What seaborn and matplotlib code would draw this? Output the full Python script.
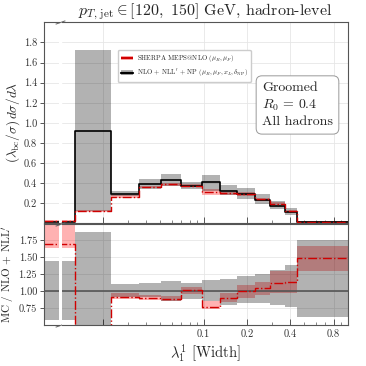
import numpy as np
import pandas as pd
import matplotlib
matplotlib.use("Agg")
import matplotlib.pyplot as plt
import seaborn as sns
from matplotlib.lines import Line2D
from matplotlib.patches import Patch
from matplotlib.ticker import FixedLocator, LogLocator, NullFormatter, FixedFormatter

# ---------------- data ----------------
edges = [0.0, 0.0127, 0.0229, 0.0356, 0.0509, 0.070, 0.0973, 0.129, 0.170,
         0.226, 0.290, 0.365, 0.447, 1.0]

theory    = [0.017, 0.92, 0.295, 0.397, 0.433, 0.375, 0.412, 0.325, 0.295, 0.232, 0.175, 0.113, 0.013]
theory_lo = [0.010, 0.12, 0.270, 0.345, 0.370, 0.345, 0.325, 0.285, 0.245, 0.190, 0.140, 0.085, 0.008]
theory_hi = [0.024, 1.72, 0.320, 0.440, 0.495, 0.415, 0.480, 0.380, 0.350, 0.295, 0.225, 0.150, 0.022]

mc    = [0.029, 0.123, 0.265, 0.360, 0.390, 0.375, 0.310, 0.300, 0.295, 0.240, 0.197, 0.125, 0.019]
mc_lo = [0.027, 0.113, 0.255, 0.350, 0.375, 0.360, 0.285, 0.280, 0.275, 0.225, 0.185, 0.115, 0.016]
mc_hi = [0.033, 0.133, 0.280, 0.375, 0.405, 0.390, 0.345, 0.315, 0.310, 0.255, 0.210, 0.135, 0.022]

ratio_mc    = [1.70, 0.13, 0.91, 0.90, 0.886, 1.01, 0.76, 0.905, 1.00, 1.04, 1.125, 1.13, 1.485]
ratio_mc_lo = [1.64, 0.12, 0.88, 0.87, 0.85, 0.96, 0.73, 0.84, 0.90, 0.94, 0.98, 0.98, 1.30]
ratio_mc_hi = [1.99, 0.14, 0.97, 0.94, 0.93, 1.06, 0.85, 0.98, 1.09, 1.14, 1.30, 1.30, 1.67]
ratio_th_lo = [0.57, 0.13, 0.92, 0.915, 0.85, 0.89, 0.85, 0.80, 0.83, 0.83, 0.80, 0.77, 0.62]
ratio_th_hi = [1.44, 1.87, 1.10, 1.125, 1.15, 1.115, 1.16, 1.18, 1.22, 1.25, 1.31, 1.39, 1.75]
ratio_ref = 1.0

x_break = 0.0104
top_yticks = [0.2, 0.4, 0.6, 0.8, 1.0, 1.2, 1.4, 1.6, 1.8]
bot_yticks = [0.75, 1.00, 1.25, 1.50, 1.75]
x_major = [0.02, 0.1, 0.2, 0.4, 0.8]
x_major_labels = ["", "0.1", "0.2", "0.4", "0.8"]

label_mc = r"SHERPA MEPS@NLO $(\mu_R, \mu_F)$"
label_th = r"NLO + NLL$^\prime$ + NP $(\mu_R, \mu_F, x_L, \delta_{\mathrm{NP}})$"

# ---------------- style ----------------
sns.set_theme(style="ticks")
plt.rcParams.update({
    "font.family": ["cmr10", "DejaVu Serif"],
    "mathtext.fontset": "cm",
    "axes.formatter.use_mathtext": True,
    "axes.unicode_minus": False,
    "axes.axisbelow": True,
    "axes.edgecolor": "#555555",
    "axes.linewidth": 0.8,
    "grid.color": "#e6e6e6",
    "grid.linewidth": 0.6,
    "xtick.color": "#555555",
    "ytick.color": "#555555",
    "xtick.labelcolor": "#333333",
    "ytick.labelcolor": "#333333",
})

RED = "#d00000"
GRAY_BAND = dict(color="black", alpha=0.3, lw=0)
RED_BAND = dict(color="red", alpha=0.3, lw=0)

W = 366.0
fig = plt.figure(figsize=(3.66, 3.66), dpi=100)
fx = lambda px: px / W
fy = lambda py: 1 - py / W

lL, rL = 44.0, 59.5
lM, rM = 62.0, 347.7
tT, bT = 22.3, 223.5
tB, bB = 223.5, 325.0

axL_top = fig.add_axes([fx(lL), fy(bT), fx(rL - lL), fx(bT - tT)])
axM_top = fig.add_axes([fx(lM), fy(bT), fx(rM - lM), fx(bT - tT)], sharey=axL_top)
axL_bot = fig.add_axes([fx(lL), fy(bB), fx(rL - lL), fx(bB - tB)], sharex=axL_top)
axM_bot = fig.add_axes([fx(lM), fy(bB), fx(rM - lM), fx(bB - tB)], sharey=axL_bot, sharex=axM_top)

for ax in (axM_top, axM_bot):
    ax.set_xscale("log", nonpositive="clip")


def ext(v):
    return list(v) + [v[-1]]


def draw_top(ax):
    ax.fill_between(edges, ext(mc_lo), ext(mc_hi), step="post", **RED_BAND)
    ax.fill_between(edges, ext(theory_lo), ext(theory_hi), step="post", **GRAY_BAND)
    d = pd.DataFrame({"x": edges, "th": ext(theory), "mc": ext(mc)})
    sns.lineplot(data=d, x="x", y="th", drawstyle="steps-post", color="black",
                 lw=1.2, ax=ax, sort=False, estimator=None, legend=False)
    sns.lineplot(data=d, x="x", y="mc", drawstyle="steps-post", color=RED,
                 lw=1.0, linestyle="-.", ax=ax, sort=False, estimator=None, legend=False)


def draw_bot(ax):
    ax.fill_between(edges, ext(ratio_mc_lo), ext(ratio_mc_hi), step="post", **RED_BAND)
    ax.fill_between(edges, ext(ratio_th_lo), ext(ratio_th_hi), step="post", **GRAY_BAND)
    ax.axhline(ratio_ref, color="#555555", lw=1.2)
    d = pd.DataFrame({"x": edges, "r": ext(ratio_mc)})
    sns.lineplot(data=d, x="x", y="r", drawstyle="steps-post", color=RED,
                 lw=1.0, linestyle="-.", ax=ax, sort=False, estimator=None, legend=False)


for ax in (axL_top, axM_top):
    draw_top(ax)
for ax in (axL_bot, axM_bot):
    draw_bot(ax)

axL_top.set_xlim(0, x_break)
axM_top.set_xlim(x_break, 1.0)
axL_top.set_ylim(0.0, 2.0)
axL_bot.set_ylim(0.5, 2.0)

for ax in (axL_top, axM_top, axL_bot, axM_bot):
    ax.set_xlabel("")
    ax.set_ylabel("")
    ax.grid(True, which="major")

# y ticks
axL_top.yaxis.set_major_locator(FixedLocator(top_yticks))
axL_top.yaxis.set_major_formatter(FixedFormatter([f"{v:.1f}" for v in top_yticks]))
axL_bot.yaxis.set_major_locator(FixedLocator(bot_yticks))
axL_bot.yaxis.set_major_formatter(FixedFormatter([f"{v:.2f}" for v in bot_yticks]))
for ax in (axL_top, axL_bot):
    ax.tick_params(axis="y", direction="out", length=3, width=0.7, labelsize=7.5, pad=2)
    ax.tick_params(axis="x", which="both", length=0, labelbottom=False)
    ax.spines["right"].set_visible(False)
for ax in (axM_top, axM_bot):
    ax.tick_params(axis="y", which="both", length=0, labelleft=False)
    ax.spines["left"].set_visible(False)
    ax.xaxis.set_major_locator(FixedLocator(x_major))
    ax.xaxis.set_minor_locator(LogLocator(base=10, subs=np.arange(2, 10)))
    ax.xaxis.set_minor_formatter(NullFormatter())
    ax.tick_params(axis="x", which="major", direction="in", length=4, width=0.7, labelsize=7.5, pad=3)
    ax.tick_params(axis="x", which="minor", direction="in", length=2, width=0.5)
axM_top.xaxis.set_major_formatter(NullFormatter())
axM_top.tick_params(axis="x", labelbottom=False)
axM_bot.xaxis.set_major_formatter(FixedFormatter(x_major_labels))

# break marks
kw = dict(marker=[(-1, -0.35), (1, 0.35)], markersize=7, linestyle="none",
          color="#666666", mec="#666666", mew=0.7, clip_on=False)
for ax in (axL_top, axL_bot):
    ax.plot([1.05, 1.05], [0, 1], transform=ax.transAxes, **kw)

# labels
axL_top.set_ylabel(r"$(\lambda_{\mathrm{bc}}/\sigma)\,d\sigma/d\lambda$", fontsize=9.5)
axL_top.yaxis.set_label_coords(-1.42, 0.5)
axL_bot.set_ylabel(r"MC / NLO + NLL$^\prime$", fontsize=8)
axL_bot.yaxis.set_label_coords(-1.72, 0.5)
axM_bot.set_xlabel(r"$\lambda_1^1$ [Width]", fontsize=10.5)
axM_bot.xaxis.set_label_coords(0.5, -0.17)
axM_top.set_title(r"$p_{T,\,\mathrm{jet}} \in [120,\ 150]$ GeV, hadron-level", fontsize=11.5, pad=3)

# legend
h_mc = (Patch(facecolor="red", alpha=0.3, lw=0), Line2D([], [], color=RED, lw=1.6, ls="-."))
h_th = (Patch(facecolor="black", alpha=0.3, lw=0), Line2D([], [], color="black", lw=1.6))
axM_top.legend([h_mc, h_th], [label_mc, label_th], loc="upper left",
               bbox_to_anchor=(0.196, 0.862), borderaxespad=0, fontsize=4.9,
               frameon=True, fancybox=True, edgecolor="#cccccc", framealpha=1,
               handlelength=1.7, handleheight=0.6, handletextpad=0.6,
               labelspacing=0.45, borderpad=0.45)

axM_top.text(0.70, 0.705, "Groomed\n$R_0\\,=\\,0.4$\nAll hadrons", transform=axM_top.transAxes,
             ha="left", va="top", fontsize=10, linespacing=1.35,
             bbox=dict(boxstyle="round,pad=0.42", fc="white", ec="#999999", lw=0.7))

fig.savefig("out.png", dpi=100)
